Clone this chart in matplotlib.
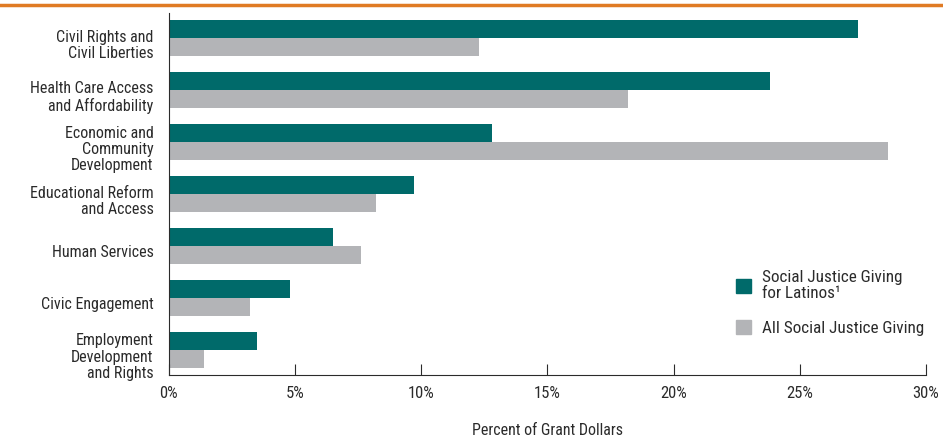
import matplotlib.pyplot as plt
from matplotlib.patches import Patch
from matplotlib.lines import Line2D
import numpy as np

categories = ["Civil Rights and\nCivil Liberties",
              "Health Care Access\nand Affordability",
              "Economic and\nCommunity\nDevelopment",
              "Educational Reform\nand Access",
              "Human Services",
              "Civic Engagement",
              "Employment\nDevelopment\nand Rights"]
latinos = [27.3, 23.8, 12.8, 9.7, 6.5, 4.8, 3.5]
all_giving = [12.3, 18.2, 28.5, 8.2, 7.6, 3.2, 1.4]
xticks = [0, 5, 10, 15, 20, 25, 30]
xticklabels = ["0%", "5%", "10%", "15%", "20%", "25%", "30%"]

teal = "#006a6a"
grey = "#b3b4b7"
txt = "#2b2b2b"

plt.rcParams['font.family'] = ['DejaVu Sans Condensed', 'Liberation Sans Narrow', 'Roboto Condensed', 'DejaVu Sans']
plt.rcParams['font.size'] = 11.5

fig = plt.figure(figsize=(9.43, 4.4), dpi=100)
ax = fig.add_axes([0.179, 0.148, 0.803, 0.822])

y = np.arange(len(categories))
h = 0.346
ax.barh(y - h / 2, latinos, height=h, color=teal)
ax.barh(y + h / 2, all_giving, height=h, color=grey)

ax.set_xlim(0, 30)
ax.set_ylim(6.48, -0.48)
ax.set_xticks(xticks)
ax.set_xticklabels(xticklabels, color=txt, fontsize=12)
ax.set_yticks(y + 0.1)
ax.set_yticklabels(categories, color=txt, linespacing=1.12)
ax.tick_params(axis='y', length=0, pad=11)
ax.tick_params(axis='x', direction='in', length=8, color=txt, pad=8)
for s in ['top', 'right']:
    ax.spines[s].set_visible(False)
ax.spines['left'].set_color(txt)
ax.spines['bottom'].set_color(txt)
ax.set_xlabel("Percent of Grant Dollars", color=txt, labelpad=16)

handles = [Patch(color=teal), Patch(color=grey)]
leg = ax.legend(handles, ["Social Justice Giving\nfor Latinos\u00b9", "All Social Justice Giving"],
                loc='upper left', bbox_to_anchor=(0.74, 0.31), frameon=False,
                handlelength=0.9, handleheight=0.9, handletextpad=0.6,
                labelspacing=1.1, fontsize=12.3, borderaxespad=0)
for t in leg.get_texts():
    t.set_color(txt)
    t.set_linespacing(1.15)

fig.add_artist(Line2D([0, 1], [0.988, 0.988], color="#e07b24", lw=2.5, transform=fig.transFigure))

fig.savefig("out.png", dpi=100)
